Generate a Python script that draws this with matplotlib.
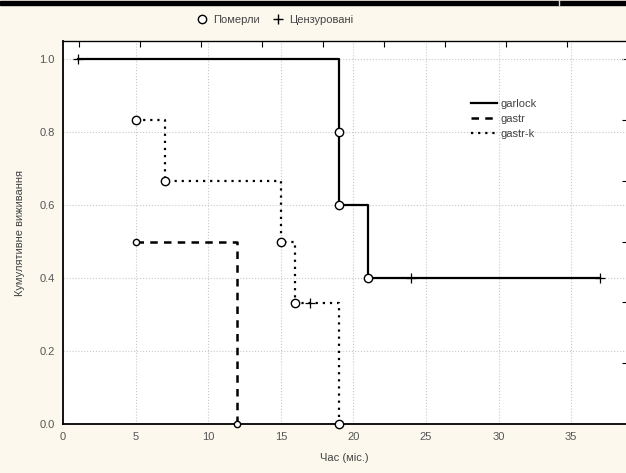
import matplotlib
matplotlib.use('Agg')
import matplotlib.pyplot as plt
from matplotlib.lines import Line2D
from matplotlib.patches import Rectangle

plt.rcParams['font.family'] = ['Liberation Sans', 'DejaVu Sans']

# garlock: steps, deaths (circles), censored (+)
garlock_t = [1, 19, 19, 21, 21, 37]
garlock_s = [1.0, 1.0, 0.6, 0.6, 0.4, 0.4]
garlock_dead_t = [19, 19, 21]
garlock_dead_s = [0.8, 0.6, 0.4]
garlock_cens_t = [1, 24, 37]
garlock_cens_s = [1.0, 0.4, 0.4]

# gastr
gastr_t = [5, 12, 12]
gastr_s = [0.5, 0.5, 0.0]
gastr_dead_t = [5, 12]
gastr_dead_s = [0.5, 0.0]

# gastr-k
gastrk_t = [5, 7, 7, 15, 15, 16, 16, 19, 19]
gastrk_s = [0.833, 0.833, 0.667, 0.667, 0.5, 0.5, 0.333, 0.333, 0.0]
gastrk_dead_t = [5, 7, 15, 16, 19]
gastrk_dead_s = [0.833, 0.667, 0.5, 0.333, 0.0]
gastrk_cens_t = [17]
gastrk_cens_s = [0.333]

xticks = [0, 5, 10, 15, 20, 25, 30, 35]
yticks = [0.0, 0.2, 0.4, 0.6, 0.8, 1.0]
ytick_labels = ['0.0', '0.2', '0.4', '0.6', '0.8', '1.0']

bg = '#FCF8EE'
txt = '#444444'

fig = plt.figure(figsize=(6.26, 4.73), dpi=100, facecolor=bg)
ax = fig.add_axes([63/626, 49/473, 1 - 63/626, 383/473])
ax.set_facecolor('white')

ax.plot(garlock_t, garlock_s, color='black', lw=1.6, ls='-', label='garlock')
ax.plot(gastr_t, gastr_s, color='black', lw=1.8, ls=(0, (3, 2.5)), label='gastr')
ax.plot(gastrk_t, gastrk_s, color='black', lw=1.6, ls=(0, (1, 2.2)), label='gastr-k')

mk = dict(ls='none', marker='o', mfc='white', mec='black', mew=1.0, zorder=5, clip_on=False)
ax.plot(garlock_dead_t, garlock_dead_s, ms=6, **mk)
ax.plot(gastrk_dead_t, gastrk_dead_s, ms=6, **mk)
ax.plot(gastr_dead_t, gastr_dead_s, ms=4.5, **mk)
ck = dict(ls='none', marker='+', color='black', ms=7, mew=0.9, zorder=5, clip_on=False)
ax.plot(garlock_cens_t, garlock_cens_s, **ck)
ax.plot(gastrk_cens_t, gastrk_cens_s, **ck)

ax.set_xlim(0, (626 - 63) / 14.52)
ax.set_ylim(0, 1.05)
ax.set_xticks(xticks)
ax.set_yticks(yticks)
ax.set_yticklabels(ytick_labels)
ax.tick_params(length=0, labelsize=8, labelcolor='#555555', pad=6)
ax.grid(True, color='#C8C8C8', ls=':', lw=0.8)

for s in ['left', 'bottom']:
    ax.spines[s].set_linewidth(1.3)
ax.spines['top'].set_linewidth(0.9)
ax.spines['right'].set_visible(False)

top = ax.secondary_xaxis('top')
top.set_xticks([1.1 + 4.2 * i for i in range(9)])
top.set_xticklabels([])
top.tick_params(direction='in', length=4, width=0.8)
right = ax.secondary_yaxis('right')
right.set_yticks([i / 6 for i in range(1, 7)])
right.set_yticklabels([])
right.tick_params(direction='in', length=3, width=0.8)
right.spines['right'].set_visible(False)

ax.set_xlabel('Час (міс.)', fontsize=8, color=txt, labelpad=8)
ax.set_ylabel('Кумулятивне виживання', fontsize=8, color=txt, labelpad=10)

ax.legend(loc='upper left', bbox_to_anchor=((465 - 63) / 563, (424 - 93) / 383),
          frameon=False, fontsize=8, handlelength=2.4, handletextpad=0.3,
          labelspacing=0.45, borderpad=0, labelcolor=txt)

h1 = Line2D([], [], ls='none', marker='o', mfc='white', mec='black', ms=6)
h2 = Line2D([], [], ls='none', marker='+', color='black', ms=7)
fig.legend([h1, h2], ['Померли', 'Цензуровані'], loc='center',
           bbox_to_anchor=(275 / 626, 1 - 20 / 473), ncol=2, frameon=False,
           fontsize=8, handlelength=1, handletextpad=0.5, columnspacing=1.2,
           labelcolor=txt)

# screenshot frame at the top
fig.add_artist(Rectangle((0, 1 - 5 / 473), 1, 4 / 473, transform=fig.transFigure,
                         color='black', zorder=10))
fig.add_artist(Line2D([559 / 626, 559 / 626], [1 - 5 / 473, 1], transform=fig.transFigure,
                      color='#DDDDDD', lw=1, zorder=11))

fig.savefig('out.png', dpi=100, facecolor=bg)
